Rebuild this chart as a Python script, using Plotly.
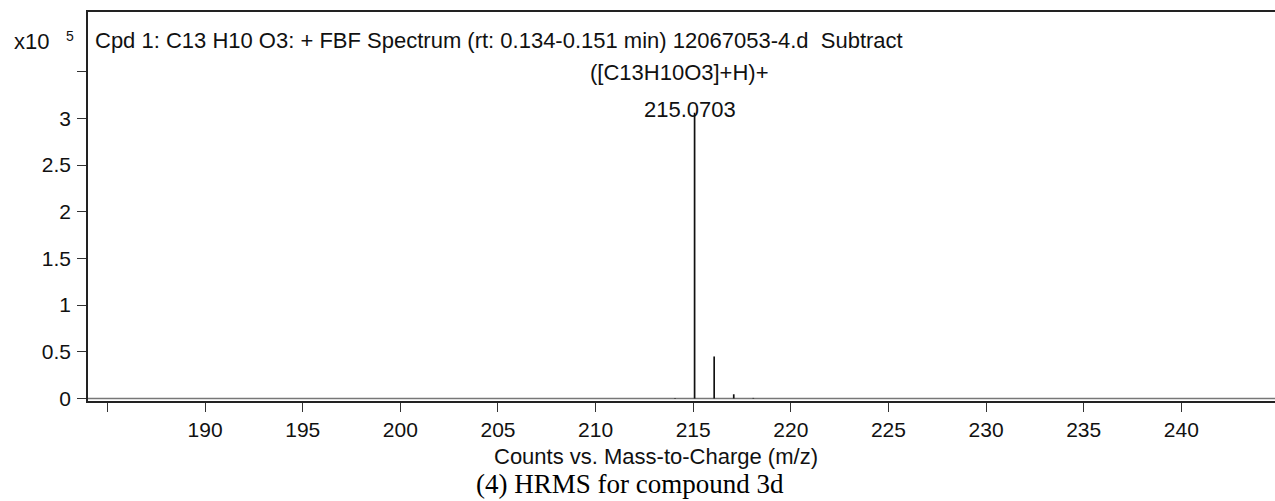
import plotly.graph_objects as go

# Centroided peaks of the spectrum (m/z, counts in units of 1e5)
mz = [214.07, 215.0703, 216.0737, 217.0765, 218.078]
counts = [0.006, 3.06, 0.45, 0.045, 0.006]

x_ticks = [185, 190, 195, 200, 205, 210, 215, 220, 225, 230, 235, 240]
x_tick_labels = ["", "190", "195", "200", "205", "210", "215", "220", "225", "230", "235", "240"]
y_ticks = [0, 0.5, 1, 1.5, 2, 2.5, 3, 3.5]
y_tick_labels = ["0", "0.5", "1", "1.5", "2", "2.5", "3", ""]

x_range = [184.0, 244.8]
y_range = [-0.027, 4.14]

W, H = 1275, 501
L, R, T, B = 88, 0, 12, 100
plot_w = W - L - R
plot_h = H - T - B


def px(xp):
    return (xp - L) / plot_w


def py(yp):
    return (H - B - yp) / plot_h


FONT = "Liberation Sans, Arial, sans-serif"

# stick spectrum: one vertical segment per peak
sx, sy = [], []
for m, c in zip(mz, counts):
    sx += [m, m, None]
    sy += [0, c, None]

fig = go.Figure()
# zero baseline of the spectrum
fig.add_trace(go.Scatter(x=x_range, y=[0, 0], mode="lines",
                         line=dict(color="#777777", width=1.5),
                         hoverinfo="skip", showlegend=False))
fig.add_trace(go.Scatter(x=sx, y=sy, mode="lines",
                         line=dict(color="#111111", width=1.7),
                         showlegend=False))

ann = []
# peak label (two lines)
ann.append(dict(x=mz[1], y=counts[1], xref="x", yref="y", xshift=-15, yshift=26,
                text="([C13H10O3]+H)+", showarrow=False, xanchor="center",
                yanchor="bottom", font=dict(family=FONT, size=22, color="#111")))
ann.append(dict(x=mz[1], y=counts[1], xref="x", yref="y", xshift=-5, yshift=-11,
                text="215.0703", showarrow=False, xanchor="center",
                yanchor="bottom", font=dict(family=FONT, size=22, color="#111")))
# header inside the frame
ann.append(dict(x=px(93), y=py(40), xref="paper", yref="paper",
                text="Cpd 1: C13 H10 O3: + FBF Spectrum (rt: 0.134-0.151 min) 12067053-4.d  Subtract",
                showarrow=False, xanchor="left", yanchor="middle",
                font=dict(family=FONT, size=22, color="#111")))
# y scale factor
ann.append(dict(x=px(12), y=py(42), xref="paper", yref="paper", text="x10",
                showarrow=False, xanchor="left", yanchor="middle",
                font=dict(family=FONT, size=22, color="#111")))
ann.append(dict(x=px(64), y=py(36), xref="paper", yref="paper", text="5",
                showarrow=False, xanchor="left", yanchor="middle",
                font=dict(family=FONT, size=14, color="#111")))
# x axis title
ann.append(dict(x=px(656), y=py(456), xref="paper", yref="paper",
                text="Counts vs. Mass-to-Charge (m/z)",
                showarrow=False, xanchor="center", yanchor="middle",
                font=dict(family=FONT, size=22, color="#111")))
# caption
ann.append(dict(x=px(630), y=py(484), xref="paper", yref="paper",
                text="(4) HRMS for compound 3d",
                showarrow=False, xanchor="center", yanchor="middle",
                font=dict(family="Liberation Serif, Times New Roman, serif", size=27, color="#000")))

fig.update_layout(
    width=W, height=H,
    margin=dict(l=L, r=R, t=T, b=B, pad=0),
    paper_bgcolor="white", plot_bgcolor="white",
    annotations=ann,
    xaxis=dict(range=x_range, tickmode="array", tickvals=x_ticks, ticktext=x_tick_labels,
               ticks="outside", ticklen=9, tickwidth=1, tickcolor="#333",
               showline=True, linecolor="#222", linewidth=1.5, mirror=True,
               showgrid=False, zeroline=False,
               tickfont=dict(family=FONT, size=21, color="#111")),
    yaxis=dict(range=y_range, tickmode="array", tickvals=y_ticks, ticktext=y_tick_labels,
               ticks="outside", ticklen=9, tickwidth=1, tickcolor="#333",
               showline=True, linecolor="#222", linewidth=1.5,
               showgrid=False, zeroline=False, ticklabelstandoff=2,
               tickfont=dict(family=FONT, size=21, color="#111")),
)

fig.write_html("out.html")
